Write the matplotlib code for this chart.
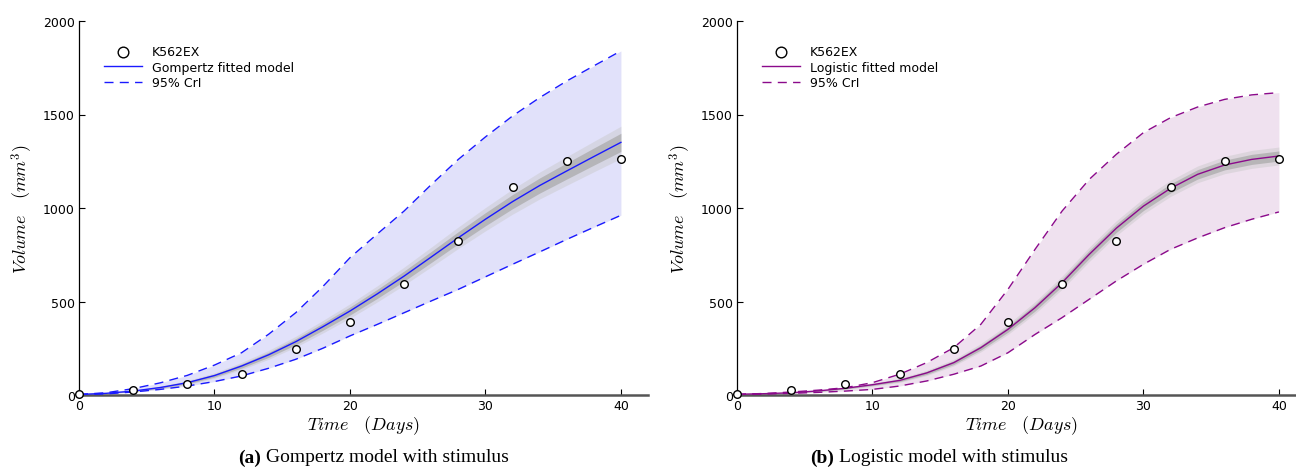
import matplotlib
matplotlib.use("Agg")
import matplotlib.pyplot as plt
import numpy as np

plt.rcParams['mathtext.fontset'] = 'cm'
plt.rcParams['font.family'] = ['DejaVu Sans']

# observed data
days = [0, 4, 8, 12, 16, 20, 24, 28, 32, 36, 40]
volume = [3, 27, 57, 110, 244, 392, 596, 823, 1112, 1250, 1260]

# model curves on a 2-day grid
t = [0, 2, 4, 6, 8, 10, 12, 14, 16, 18, 20, 22, 24, 26, 28, 30, 32, 34, 36, 38, 40]
gomp_fit = [3, 9, 21, 40, 66, 104, 155, 215, 285, 365, 449, 540, 636, 738, 841, 940, 1034, 1120, 1198, 1275, 1351]
gomp_hi = [3, 12, 34, 65, 105, 160, 226, 325, 440, 580, 734, 860, 984, 1125, 1260, 1380, 1492, 1590, 1679, 1760, 1840]
gomp_lo = [2, 6, 16, 30, 48, 72, 102, 143, 191, 250, 316, 377, 440, 503, 565, 632, 699, 765, 832, 897, 961]
gomp_spread = [0, 1, 3, 5, 7, 9, 12, 15, 18, 21, 24, 27, 30, 33, 36, 39, 42, 45, 48, 51, 54]

logi_fit = [4, 7, 12, 22, 36, 55, 78, 118, 173, 253, 351, 467, 601, 752, 892, 1010, 1105, 1180, 1230, 1260, 1278]
logi_hi = [4, 8, 16, 26, 39, 66, 111, 173, 253, 378, 565, 779, 984, 1153, 1287, 1403, 1483, 1540, 1581, 1605, 1617]
logi_lo = [2, 5, 9, 14, 21, 30, 48, 75, 111, 155, 226, 324, 414, 512, 610, 699, 779, 840, 895, 940, 979]
logi_spread = [0, 1, 2, 3, 4, 5, 7, 9, 11, 14, 17, 20, 22, 24, 25, 26, 27, 28, 29, 30, 30]

fig = plt.figure(figsize=(12.96, 4.77), dpi=100)

def panel(rect, fit, hi, lo, spread, color, fillc, name):
    ax = fig.add_axes(rect)
    tt = np.array(t, float)
    f = np.array(fit, float)
    s = np.array(spread, float)
    ax.fill_between(tt, lo, hi, color=fillc, lw=0, zorder=1)
    ax.fill_between(tt, f - 1.6 * s, f + 1.6 * s, color='#c8c8c8', alpha=0.45, lw=0, zorder=2)
    ax.fill_between(tt, f - 0.9 * s, f + 0.9 * s, color='#a8a8a8', alpha=0.7, lw=0, zorder=2)
    ax.plot(t, fit, color=color, lw=1.0, zorder=3, label=name + ' fitted model')
    ax.plot(t, hi, color=color, lw=1.0, ls=(0, (6.5, 4.5)), zorder=3, label='95% CrI')
    ax.plot(t, lo, color=color, lw=1.0, ls=(0, (6.5, 4.5)), zorder=3)
    ax.scatter(days, volume, s=30, facecolor='white', edgecolor='black', lw=1.0,
               zorder=5, label='K562EX', clip_on=False)
    ax.set_xlim(0, 42)
    ax.set_ylim(0, 2000)
    ax.set_xticks([0, 10, 20, 30, 40])
    ax.set_yticks([0, 500, 1000, 1500, 2000])
    for sp in ['top', 'right']:
        ax.spines[sp].set_visible(False)
    ax.spines['bottom'].set_color('#555555')
    ax.spines['bottom'].set_linewidth(1.8)
    ax.spines['left'].set_color('black')
    ax.spines['left'].set_linewidth(0.9)
    ax.tick_params(axis='both', direction='in', labelsize=9, length=4, width=0.8, pad=3)
    ax.set_xlabel(r'$Time\quad(Days)$', fontsize=13, labelpad=1)
    ax.set_ylabel(r'$Volume\quad(mm^3)$', fontsize=13, labelpad=6)
    handles, labels = ax.get_legend_handles_labels()
    order = [2, 0, 1]
    ax.legend([handles[i] for i in order], [labels[i] for i in order], loc='upper left',
              bbox_to_anchor=(0.025, 0.965), frameon=False, fontsize=9,
              handlelength=3.0, handletextpad=0.8, labelspacing=0.2, markerscale=1.4)
    return ax

panel([79/1296, 1 - 396/477, 569/1296, 374/477], gomp_fit, gomp_hi, gomp_lo, gomp_spread,
      '#1a1aff', '#e1e1fa', 'Gompertz')
panel([737/1296, 1 - 396/477, 569/1296, 374/477], logi_fit, logi_hi, logi_lo, logi_spread,
      '#8b0a8b', '#efe1ef', 'Logistic')

cy = 1 - 458/477
fig.text(261/1296, cy, '(a)', ha='right', va='center', fontsize=14,
         family='Liberation Serif', weight='bold')
fig.text(266/1296, cy, 'Gompertz model with stimulus', ha='left', va='center',
         fontsize=14, family='Liberation Serif')
fig.text(834/1296, cy, '(b)', ha='right', va='center', fontsize=14,
         family='Liberation Serif', weight='bold')
fig.text(839/1296, cy, 'Logistic model with stimulus', ha='left', va='center',
         fontsize=14, family='Liberation Serif')

fig.savefig('out.png', dpi=100)
